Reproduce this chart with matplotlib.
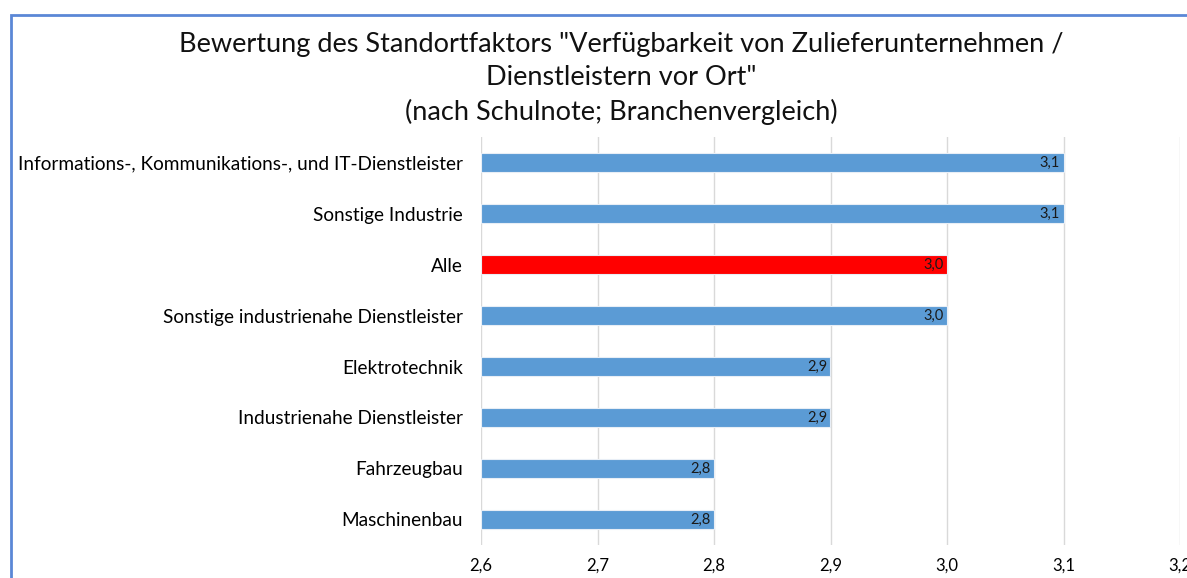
import matplotlib
matplotlib.use("Agg")
import matplotlib.pyplot as plt
from matplotlib.patches import Rectangle

categories = [
    "Informations-, Kommunikations-, und IT-Dienstleister",
    "Sonstige Industrie",
    "Alle",
    "Sonstige industrienahe Dienstleister",
    "Elektrotechnik",
    "Industrienahe Dienstleister",
    "Fahrzeugbau",
    "Maschinenbau",
]
values = [3.1, 3.1, 3.0, 3.0, 2.9, 2.9, 2.8, 2.8]
highlight = "Alle"
xticks = [2.6, 2.7, 2.8, 2.9, 3.0, 3.1, 3.2]
title = ('Bewertung des Standortfaktors "Verfügbarkeit von Zulieferunternehmen /\n'
         'Dienstleistern vor Ort"\n(nach Schulnote; Branchenvergleich)')

plt.rcParams['font.family'] = ['Lato', 'DejaVu Sans']

W, H = 1187, 578
fig = plt.figure(figsize=(W / 100, H / 100), dpi=100)
ax = fig.add_axes([481 / W, 1 - 545 / H, (1180 - 481) / W, (545 - 137) / H])

base = 2.6
ypos = list(range(len(categories)))
colors = ["#FF0000" if c == highlight else "#5B9BD5" for c in categories]
ax.barh(ypos, [v - base for v in values], left=base, height=0.36,
        color=colors, edgecolor="#E8EEF6", linewidth=0.8, zorder=3)
for y, v in zip(ypos, values):
    ax.text(v - 0.003, y, f"{v:.1f}".replace(".", ","), ha="right", va="center",
            fontsize=10.5, color="#1a1a1a", zorder=4)

ax.set_xlim(2.6, 3.2)
ax.set_ylim(len(categories) - 0.5, -0.5)
ax.set_yticks(ypos)
ax.set_yticklabels(categories, fontsize=13.7)
ax.set_xticks(xticks)
ax.set_xticklabels([f"{t:.1f}".replace(".", ",") for t in xticks], fontsize=12)
ax.tick_params(axis="y", length=0, pad=13)
ax.tick_params(axis="x", length=0, pad=9)
ax.grid(axis="x", color="#D9D9D9", linewidth=1, zorder=0)
for s in ax.spines.values():
    s.set_visible(False)

fig.text(621 / W, 1 - 32 / H, title, ha="center", va="top", fontsize=19.5,
         linespacing=1.42, color="#111111")

fig.patches.append(Rectangle((10.5 / W, -0.1), 1.2, 1 - 15 / H + 0.1,
                             transform=fig.transFigure, fill=False,
                             edgecolor="#5B87D6", linewidth=2, zorder=10))

fig.savefig("out.png", dpi=100)
